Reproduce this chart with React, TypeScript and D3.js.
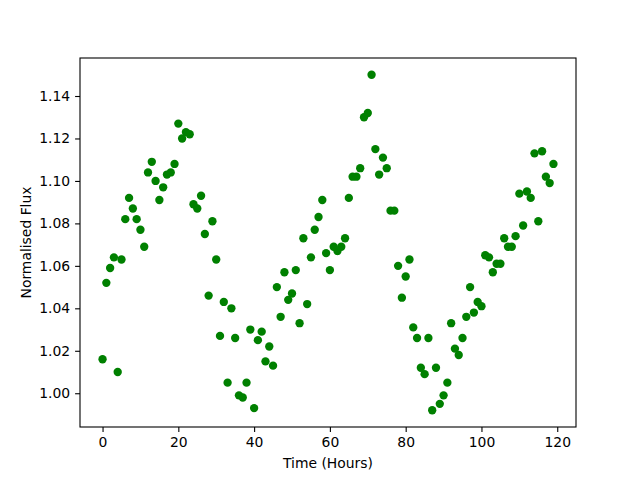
import * as d3 from "d3";
import React, { useEffect, useRef } from "react";

// hourly samples, 0..119
const hours = d3.range(0, 120);

const flux = [
  1.016, 1.052, 1.059, 1.064, 1.010, 1.063, 1.082, 1.092, 1.087, 1.082,
  1.077, 1.069, 1.104, 1.109, 1.100, 1.091, 1.097, 1.103, 1.104, 1.108,
  1.127, 1.120, 1.123, 1.122, 1.089, 1.087, 1.093, 1.075, 1.046, 1.081,
  1.063, 1.027, 1.043, 1.005, 1.040, 1.026, 0.999, 0.998, 1.005, 1.030,
  0.993, 1.025, 1.029, 1.015, 1.022, 1.013, 1.050, 1.036, 1.057, 1.044,
  1.047, 1.058, 1.033, 1.073, 1.042, 1.064, 1.077, 1.083, 1.091, 1.066,
  1.058, 1.069, 1.067, 1.069, 1.073, 1.092, 1.102, 1.102, 1.106, 1.130,
  1.132, 1.150, 1.115, 1.103, 1.111, 1.106, 1.086, 1.086, 1.060, 1.045,
  1.055, 1.063, 1.031, 1.026, 1.012, 1.009, 1.026, 0.992, 1.012, 0.995,
  0.999, 1.005, 1.033, 1.021, 1.018, 1.026, 1.036, 1.050, 1.038, 1.043,
  1.041, 1.065, 1.064, 1.057, 1.061, 1.061, 1.073, 1.069, 1.069, 1.074,
  1.094, 1.079, 1.095, 1.092, 1.113, 1.081, 1.114, 1.102, 1.099, 1.108,
];

const xTicks = [0, 20, 40, 60, 80, 100, 120];
const yTicks = [1.0, 1.02, 1.04, 1.06, 1.08, 1.1, 1.12, 1.14];

const App = () => {
  const svgRef = useRef<SVGSVGElement>(null);

  useEffect(() => {
    const width = 640;
    const height = 480;
    const margin = { top: 58, right: 64, bottom: 53, left: 80 };
    const w = width - margin.left - margin.right;
    const h = height - margin.top - margin.bottom;
    const font = "DejaVu Sans, sans-serif";

    const svg = d3.select(svgRef.current);
    svg.selectAll("*").remove();
    svg.attr("width", width).attr("height", height);

    svg.append("rect").attr("width", width).attr("height", height).attr("fill", "#fff");

    const g = svg.append("g").attr("transform", `translate(${margin.left},${margin.top})`);

    // matplotlib style 5% padding
    const xMin = d3.min(hours)!, xMax = d3.max(hours)!;
    const yMin = d3.min(flux)!, yMax = d3.max(flux)!;
    const xPad = (xMax - xMin) * 0.05;
    const yPad = (yMax - yMin) * 0.05;

    const x = d3.scaleLinear().domain([xMin - xPad, xMax + xPad]).range([0, w]);
    const y = d3.scaleLinear().domain([yMin - yPad, yMax + yPad]).range([h, 0]);

    const xAxis = g.append("g")
      .attr("transform", `translate(0,${h})`)
      .call(d3.axisBottom(x).tickValues(xTicks).tickFormat(d3.format("d")).tickSize(4.9).tickPadding(4.9));
    const yAxis = g.append("g")
      .call(d3.axisLeft(y).tickValues(yTicks).tickFormat(d3.format(".2f")).tickSize(4.9).tickPadding(4.9));

    [xAxis, yAxis].forEach(a => {
      a.select(".domain").remove();
      a.selectAll("line").attr("stroke", "#000").attr("stroke-width", 1.1);
      a.selectAll("text").attr("fill", "#000").style("font-family", font).style("font-size", "13.9px");
    });

    g.selectAll(".pt")
      .data(hours)
      .enter()
      .append("circle")
      .attr("class", "pt")
      .attr("cx", d => x(d))
      .attr("cy", (d, i) => y(flux[i]))
      .attr("r", 4.17)
      .attr("fill", "#008000");

    g.append("rect")
      .attr("width", w)
      .attr("height", h)
      .attr("fill", "none")
      .attr("stroke", "#000")
      .attr("stroke-width", 1.1);

    svg.append("text")
      .attr("x", margin.left + w / 2)
      .attr("y", 468)
      .attr("text-anchor", "middle")
      .style("font-family", font)
      .style("font-size", "13.9px")
      .text("Time (Hours)");

    svg.append("text")
      .attr("transform", `translate(31,${margin.top + h / 2}) rotate(-90)`)
      .attr("text-anchor", "middle")
      .style("font-family", font)
      .style("font-size", "13.9px")
      .text("Normalised Flux");
  }, []);

  return <svg ref={svgRef} style={{ position: "absolute", left: 0, top: 0 }} />;
};

export default App;
